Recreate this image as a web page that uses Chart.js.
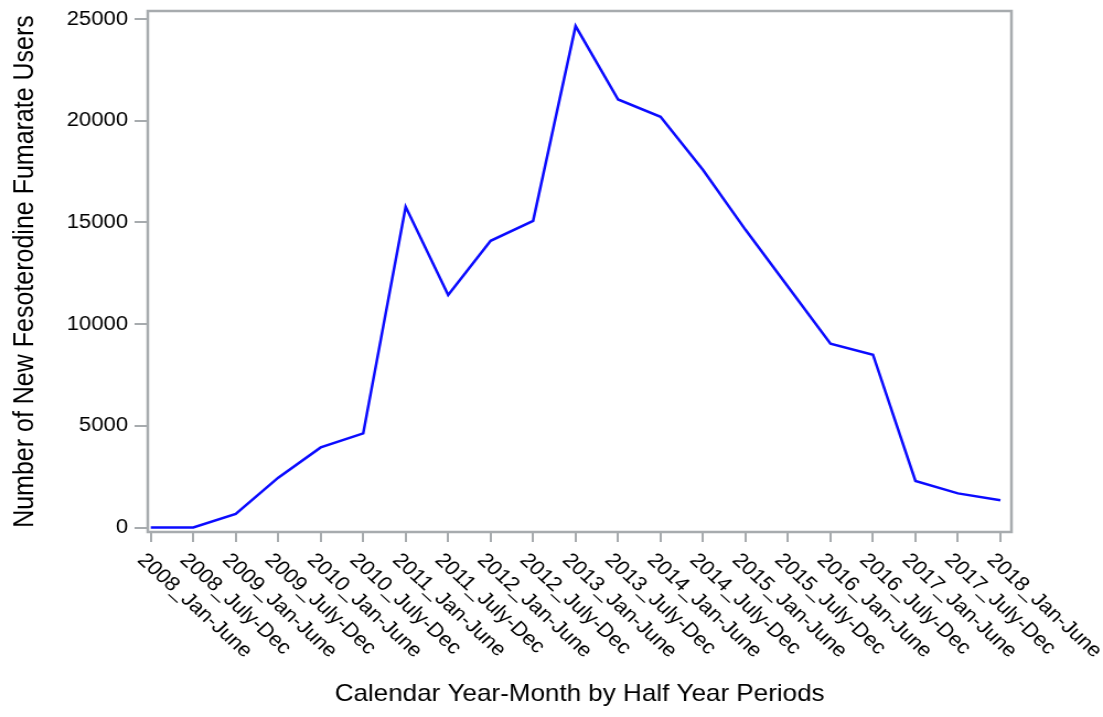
<!DOCTYPE html>
<html>
<head>
<meta charset="utf-8">
<script src="https://cdn.jsdelivr.net/npm/chart.js@4.4.1/dist/chart.umd.min.js"></script>
<style>
  html, body { margin: 0; padding: 0; background: #fff; overflow: hidden; }
  /* the original picture is a little wider than tall, so stretch the canvas sideways */
  #wrap { width: 1000px; height: 717px; transform: scale(1.103, 1); transform-origin: 0 0; }
</style>
</head>
<body>
<div id="wrap"><canvas id="chart" width="1000" height="717"></canvas></div>
<script>
// data
const periods = [
  '2008_Jan-June', '2008_July-Dec', '2009_Jan-June', '2009_July-Dec',
  '2010_Jan-June', '2010_July-Dec', '2011_Jan-June', '2011_July-Dec',
  '2012_Jan-June', '2012_July-Dec', '2013_Jan-June', '2013_July-Dec',
  '2014_Jan-June', '2014_July-Dec', '2015_Jan-June', '2015_July-Dec',
  '2016_Jan-June', '2016_July-Dec', '2017_Jan-June', '2017_July-Dec',
  '2018_Jan-June'
];
const newUsers = [
  0, 0, 670, 2450, 3940, 4630, 15770, 11440, 14100, 15080, 24660,
  21050, 20200, 17580, 14640, 11840, 9040, 8500, 2290, 1680, 1340
];
const yTicks = [0, 5000, 10000, 15000, 20000, 25000];
const xTitle = 'Calendar Year-Month by Half Year Periods';
const yTitle = 'Number of New Fesoterodine Fumarate Users';

const FONT = '"Liberation Sans", Arial, Helvetica, sans-serif';
const GRAY = '#a7abae';

Chart.defaults.font.family = FONT;
Chart.defaults.color = '#000';

// box round the plot area
const framePlugin = {
  id: 'frame',
  beforeDatasetsDraw(chart) {
    const { ctx, chartArea: a } = chart;
    ctx.save();
    ctx.strokeStyle = GRAY;
    ctx.lineWidth = 2.5;
    ctx.strokeRect(a.left, a.top, a.right - a.left, a.bottom - a.top);
    ctx.restore();
  }
};

// x labels slanting down to the right, starting at the tick
const xLabelPlugin = {
  id: 'xLabels',
  afterDraw(chart) {
    const ctx = chart.ctx;
    const xs = chart.scales.x;
    ctx.save();
    ctx.font = '20px ' + FONT;
    ctx.fillStyle = '#000';
    ctx.textAlign = 'left';
    ctx.textBaseline = 'middle';
    periods.forEach((p, i) => {
      const x = xs.getPixelForValue(i);
      ctx.save();
      ctx.translate(x - 9, xs.top + 25);
      ctx.rotate(Math.PI / 4);
      ctx.fillText(p, 0, 0);
      ctx.restore();
    });
    ctx.restore();
  }
};

function noPad(s) {
  s.paddingTop = 0;
  s.paddingBottom = 0;
  s.paddingLeft = 0;
  s.paddingRight = 0;
}

new Chart(document.getElementById('chart'), {
  type: 'line',
  data: {
    datasets: [{
      data: newUsers.map((v, i) => ({ x: i, y: v })),
      borderColor: '#0b0bff',
      borderWidth: 2.5,
      pointRadius: 0,
      tension: 0,
      fill: false,
    }]
  },
  options: {
    responsive: false,
    animation: false,
    layout: { padding: { top: 11, right: 83, left: 0, bottom: 0 } },
    plugins: {
      legend: { display: false },
      tooltip: { enabled: false }
    },
    scales: {
      x: {
        type: 'linear',
        min: -0.07,
        max: 20.26,
        afterFit: (s) => { s.height = 185; noPad(s); },
        ticks: {
          stepSize: 1,
          includeBounds: false,
          autoSkip: false,
          maxRotation: 0,
          callback: () => '',
        },
        grid: { drawOnChartArea: false, tickLength: 10, color: GRAY, lineWidth: 2 },
        border: { display: false },
        title: {
          display: true,
          text: xTitle,
          font: { size: 23.6 },
          color: '#000',
          padding: { top: 0, bottom: 8 }
        }
      },
      y: {
        min: -220,
        max: 25400,
        afterFit: (s) => { s.width = 134; noPad(s); },
        afterBuildTicks: (s) => { s.ticks = yTicks.map(v => ({ value: v })); },
        ticks: {
          font: { size: 20 },
          color: '#000',
          padding: 6,
          callback: (v) => String(v),
        },
        grid: { drawOnChartArea: false, tickLength: 12, color: GRAY, lineWidth: 2 },
        border: { display: false },
        title: {
          display: true,
          text: yTitle,
          font: { size: 25 },
          color: '#000',
          padding: { top: 8, bottom: 0 }
        }
      }
    }
  },
  plugins: [framePlugin, xLabelPlugin]
});
</script>
</body>
</html>
